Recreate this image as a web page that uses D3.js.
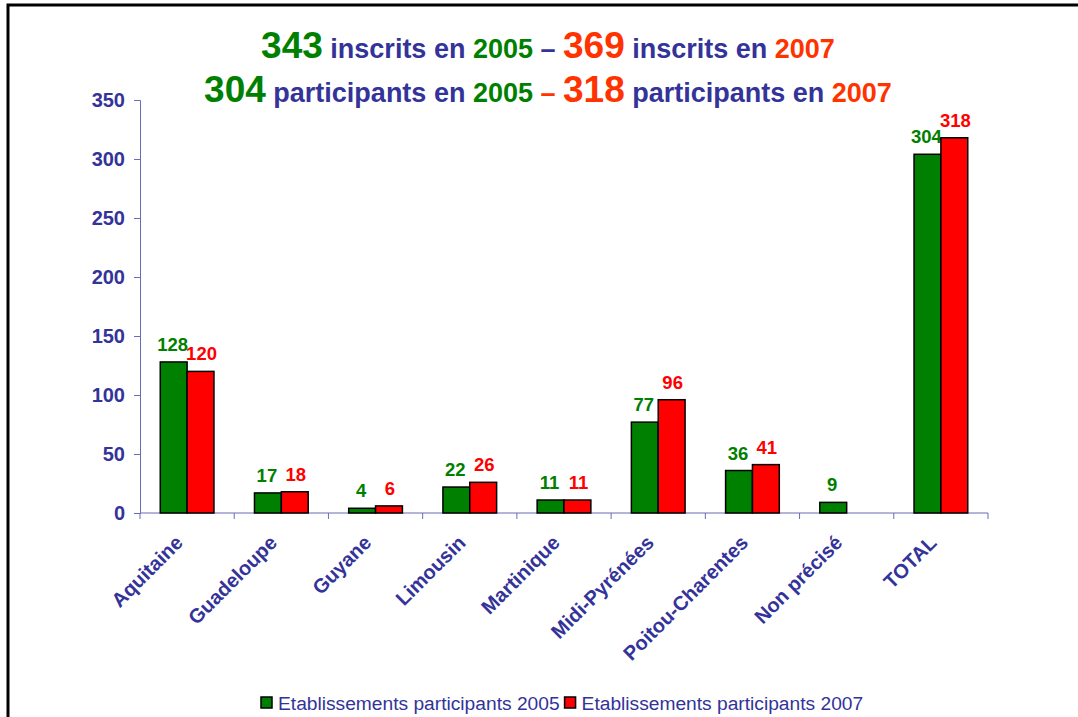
<!DOCTYPE html>
<html>
<head>
<meta charset="utf-8">
<script src="https://d3js.org/d3.v7.min.js"></script>
<style>
    body { margin: 0; background: #fff; }
    svg { display: block; font-family: "Liberation Sans", Arial, sans-serif; }
</style>
</head>
<body>
<svg id="chart" width="1078" height="717"></svg>
<script>
    // data
    const regions = ["Aquitaine", "Guadeloupe", "Guyane", "Limousin", "Martinique", "Midi-Pyrénées", "Poitou-Charentes", "Non précisé", "TOTAL"];
    const values2005 = [128, 17, 4, 22, 11, 77, 36, 9, 304];
    const values2007 = [120, 18, 6, 26, 11, 96, 41, null, 318];
    const seriesNames = ["Etablissements participants 2005", "Etablissements participants 2007"];
    const yTicks = [0, 50, 100, 150, 200, 250, 300, 350];

    const green = "#008000", red = "#ff0000", orange = "#ff3300", navy = "#333399", axisColor = "#6b6bb8";

    const svg = d3.select("#chart");

    // outer frame
    svg.append("rect")
        .attr("x", 8).attr("y", 5)
        .attr("width", 1100).attr("height", 760)
        .attr("fill", "none")
        .attr("stroke", "#000")
        .attr("stroke-width", 3);

    // title, two lines of coloured pieces
    const titleLines = [
        [["343", green, 37], [" inscrits en ", navy, 27], ["2005", green, 27], [" – ", navy, 27],
         ["369", orange, 37], [" inscrits en ", navy, 27], ["2007", orange, 27]],
        [["304", green, 37], [" participants en ", navy, 27], ["2005", green, 27], [" – ", orange, 27],
         ["318", orange, 37], [" participants en ", navy, 27], ["2007", orange, 27]]
    ];
    titleLines.forEach((parts, i) => {
        const t = svg.append("text")
            .attr("x", 548)
            .attr("y", 58 + i * 44)
            .attr("text-anchor", "middle")
            .attr("font-weight", "bold")
            .style("white-space", "pre");
        parts.forEach(p => {
            t.append("tspan").text(p[0]).attr("fill", p[1]).attr("font-size", p[2] + "px");
        });
    });

    const plotLeft = 140, plotRight = 988, plotTop = 100, plotBottom = 513;

    const x = d3.scaleBand().domain(regions).range([plotLeft, plotRight]);
    const bw = x.bandwidth();
    const x1 = d3.scaleBand().domain([0, 1]).range([bw * 0.215, bw * 0.785]);
    const y = d3.scaleLinear().domain([0, 350]).range([plotBottom, plotTop]);

    // y axis
    const yAxis = svg.append("g")
        .attr("transform", `translate(${plotLeft},0)`)
        .call(d3.axisLeft(y).tickValues(yTicks).tickSize(6).tickPadding(9));
    yAxis.select(".domain").attr("stroke", axisColor);
    yAxis.selectAll(".tick line").attr("stroke", axisColor);
    yAxis.selectAll(".tick text")
        .attr("fill", navy)
        .attr("font-size", "20px")
        .attr("font-weight", "bold")
        .attr("font-family", "Liberation Sans, Arial, sans-serif");

    // x axis: ticks sit between categories
    const xg = svg.append("g");
    xg.append("line")
        .attr("x1", plotLeft).attr("x2", plotRight)
        .attr("y1", plotBottom).attr("y2", plotBottom)
        .attr("stroke", axisColor);
    xg.selectAll(".xtick")
        .data(regions.map(r => x(r)).concat([plotRight]))
        .enter().append("line")
        .attr("x1", d => d).attr("x2", d => d)
        .attr("y1", plotBottom).attr("y2", plotBottom + 6)
        .attr("stroke", axisColor);

    xg.selectAll(".xlabel")
        .data(regions)
        .enter().append("text")
        .attr("transform", d => `translate(${x(d) + bw / 2 - 3},${plotBottom + 31}) rotate(-45)`)
        .attr("text-anchor", "end")
        .attr("font-size", "20px")
        .attr("font-weight", "bold")
        .attr("fill", navy)
        .text(d => d);

    // bars
    const series = [values2005, values2007];
    const colors = [green, red];
    series.forEach((vals, s) => {
        const pts = regions.map((r, i) => ({ r: r, v: vals[i] })).filter(d => d.v != null);
        svg.append("g").selectAll("rect")
            .data(pts)
            .enter().append("rect")
            .attr("x", d => x(d.r) + x1(s))
            .attr("y", d => y(d.v))
            .attr("width", x1.bandwidth())
            .attr("height", d => y(0) - y(d.v))
            .attr("fill", colors[s])
            .attr("stroke", "#000")
            .attr("stroke-width", 1.5);

        svg.append("g").selectAll("text")
            .data(pts)
            .enter().append("text")
            .attr("x", d => x(d.r) + x1(s) + x1.bandwidth() / 2 + (s ? 1 : -1))
            .attr("y", d => y(d.v) - 11)
            .attr("text-anchor", "middle")
            .attr("font-size", "18.5px")
            .attr("font-weight", "bold")
            .attr("fill", colors[s])
            .text(d => d.v);
    });

    // legend
    const legend = svg.append("g").attr("transform", "translate(261,697)");
    let lx = 0;
    seriesNames.forEach((name, i) => {
        const g = legend.append("g").attr("transform", `translate(${lx},0)`);
        g.append("rect")
            .attr("width", 11).attr("height", 11)
            .attr("fill", colors[i])
            .attr("stroke", "#000")
            .attr("stroke-width", 1.5);
        const t = g.append("text")
            .attr("x", 17)
            .attr("y", 12.5)
            .attr("font-size", "19.2px")
            .attr("fill", navy)
            .text(name);
        lx += 17 + t.node().getComputedTextLength() + 5;
    });
</script>
</body>
</html>
